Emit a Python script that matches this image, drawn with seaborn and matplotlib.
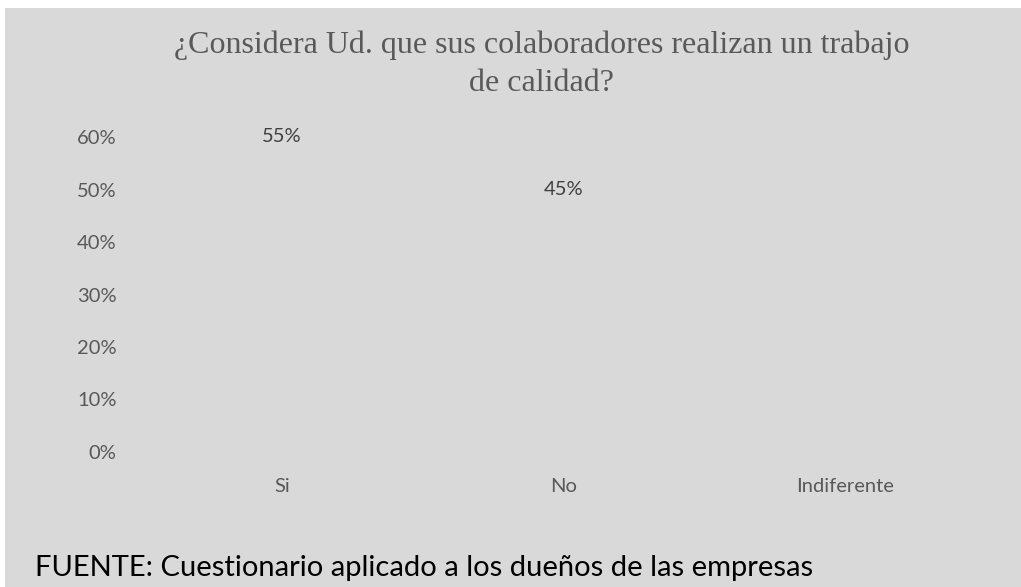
import numpy as np
import pandas as pd
import matplotlib
matplotlib.use("Agg")
import matplotlib.pyplot as plt
from matplotlib.patches import Rectangle
import seaborn as sns

# Survey answers and their shares
categories = ["Si", "No", "Indiferente"]
shares = [0.55, 0.45, 0.0]
tick_values = [0.0, 0.1, 0.2, 0.3, 0.4, 0.5, 0.6]
tick_labels = ["0%", "10%", "20%", "30%", "40%", "50%", "60%"]

title = "¿Considera Ud. que sus colaboradores realizan un trabajo\nde calidad?"
source = "FUENTE: Cuestionario aplicado a los dueños de las empresas"

panel = "#d9d9d9"
df = pd.DataFrame({"respuesta": categories, "porcentaje": shares})

sns.set_theme(style="white")
plt.rcParams["font.family"] = ["Lato", "DejaVu Sans"]

W, H = 1021, 587
fig = plt.figure(figsize=(W / 100, H / 100), dpi=100, facecolor="white")
fig.patches.append(Rectangle((5 / W, 0), 1 - 5 / W, 1 - 8 / H,
                             transform=fig.transFigure, facecolor=panel,
                             edgecolor="none", zorder=-10))

ax = fig.add_axes([141.5 / W, 135 / H, 844 / W, 315 / H])
ax.set_facecolor(panel)
ax.patch.set_alpha(0)

# Bars share the panel colour, so only their value labels stand out
sns.barplot(data=df, x="respuesta", y="porcentaje", color=panel,
            width=0.5, ax=ax, saturation=1, edgecolor="none", linewidth=0)

ax.set_ylim(0, 0.6)
ax.set_xlim(-0.5, 2.5)
ax.set_yticks(tick_values)
ax.set_yticklabels(tick_labels)
ax.set_xlabel("")
ax.set_ylabel("")
ax.tick_params(axis="y", length=0, pad=18, labelsize=14.5, labelcolor="#595959")
ax.tick_params(axis="x", length=0, pad=19, labelsize=14.5, labelcolor="#595959")
for s in ax.spines.values():
    s.set_visible(False)
ax.grid(False)

for i, v in enumerate(shares):
    if v > 0:
        ax.annotate(f"{v:.0%}", (i, v), xytext=(0, 19), textcoords="offset points",
                    ha="center", va="center", fontsize=14.5, color="#404040",
                    annotation_clip=False)

fig.text(0.5 * (175 + 908) / W, 1 - 64 / H, title, ha="center", va="center",
         family="Liberation Serif", fontsize=23, color="#595959", linespacing=1.4)
fig.text(35 / W, 1 - 568 / H, source, ha="left", va="center",
         fontsize=21, color="black")

fig.savefig("out.png", dpi=100, facecolor="white")
